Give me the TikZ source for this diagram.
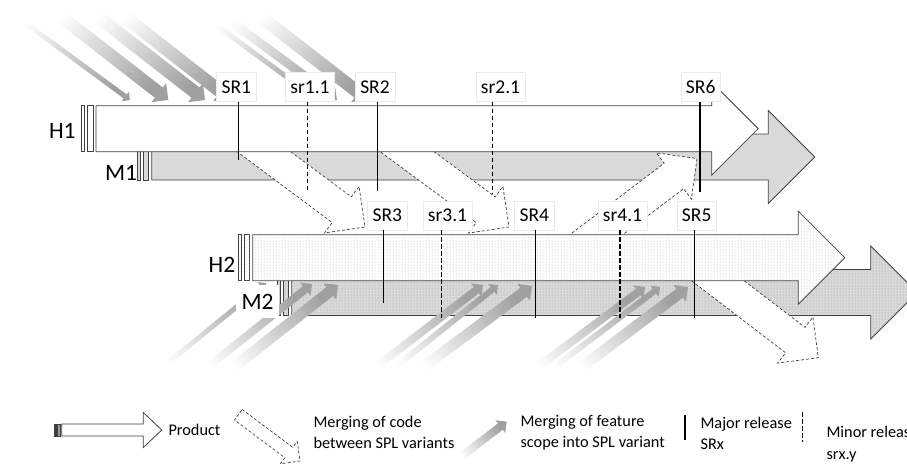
\documentclass[tikz,border=0pt]{standalone}
\usepackage{fontspec}
\setmainfont{Carlito}
\usepackage{xcolor}
\usepackage{tikz}
\usetikzlibrary{calc,patterns}
\definecolor{rahmen}{HTML}{404040}
\definecolor{grau}{HTML}{D9D9D9}
\definecolor{pfeil}{HTML}{A0A0A0}

% product bar: #1 style, #2 start of body, #3 start of head, #4 centre line
\newcommand{\prodarrow}[4]{%
  \path[#1] (#2-14.5,#4-23) rectangle (#2-11.5,#4+23) (#2-8.8,#4-23) rectangle (#2-3,#4+23);
  \path[#1] (#2,#4-23) -- (#3,#4-23) -- (#3,#4-46.5) -- (#3+46.5,#4) -- (#3,#4+46.5)
    -- (#3,#4+23) -- (#2,#4+23) -- cycle;}
% block arrow: #1 tail, #2 tip, #3 half shaft, #4 half head
\newcommand{\mergearrow}[4]{%
  \coordinate (mb) at ($(#2)!#4pt!(#1)$);
  \path[mergeline] ($(#1)!#3pt!90:(#2)$) -- ($(mb)!#3pt!90:(#2)$) -- ($(mb)!#4pt!90:(#2)$)
    -- (#2) -- ($(mb)!#4pt!-90:(#2)$) -- ($(mb)!#3pt!-90:(#2)$) -- ($(#1)!#3pt!-90:(#2)$) -- cycle;}
% shaded arrow: #1 tail, #2 tip, #3 half shaft, #4 half head, #5 shading angle
\newcommand{\featarrow}[5]{%
  \coordinate (fb) at ($(#2)!#4pt!(#1)$);
  \shade[featshade, shading angle=#5] ($(#1)!#3pt!90:(#2)$) -- ($(fb)!#3pt!90:(#2)$) -- ($(fb)!#4pt!90:(#2)$)
    -- (#2) -- ($(fb)!#4pt!-90:(#2)$) -- ($(fb)!#3pt!-90:(#2)$) -- ($(#1)!#3pt!-90:(#2)$) -- cycle;}

\begin{document}
\begin{tikzpicture}[x=1pt, y=-1pt, line join=miter,
  balken/.style={draw=rahmen, line width=0.8pt},
  weiss/.style={balken, fill=white},
  grauf/.style={balken, fill=grau},
  hell/.style={balken, fill=white, postaction={pattern=dots, pattern color=black!30}},
  dunkel/.style={balken, fill=grau, postaction={pattern=dots, pattern color=black!40}},
  mergeline/.style={draw=rahmen, dash pattern=on 3pt off 2pt, fill=white, line width=0.7pt},
  featshade/.style={top color=white, middle color=pfeil!28, bottom color=pfeil},
  major/.style={line width=1.1pt},
  minor/.style={line width=1.1pt, dash pattern=on 4.5pt off 2.5pt},
  rel/.style={fill=white, draw=black!8, font=\fontsize{19.5}{22}\selectfont, minimum height=29pt, inner xsep=5pt, anchor=south},
  bar label/.style={font=\fontsize{23.5}{26}\selectfont},
  legende/.style={font=\fontsize{16.3}{21.5}\selectfont, align=left, anchor=west}]
  \useasboundingbox (0,0) rectangle (907,463);

  % first pair
  \prodarrow{grauf}{151.7}{768.3}{157}
  \mergearrow{233,128.7}{365,227}{16}{29}
  \mergearrow{376,128.7}{509,227}{16}{29}
  \mergearrow{565.5,258}{697,158.5}{16}{29}
  \prodarrow{weiss}{96}{711.7}{128.7}

  \featarrow{10,11.7}{130,100}{2.5}{6}{52}
  \featarrow{48.3,6.7}{168.3,100}{6.5}{12}{52}
  \featarrow{85,6.7}{205,100}{6.5}{12}{52}
  \featarrow{111.7,6.7}{230,99}{6.5}{12}{52}
  \featarrow{200,13.3}{318,100}{2.5}{6}{52}
  \featarrow{218,11.7}{337,100}{4.5}{9}{52}
  \featarrow{248,6.7}{368,100}{6.5}{12}{52}

  % second pair
  \prodarrow{dunkel}{291.7}{870.7}{292.5}
  \mergearrow{686.8,257}{818.3,357.7}{16}{29}
  \prodarrow{hell}{252.7}{798.3}{257.7}

  \featarrow{153,375}{266,283}{2.5}{6}{127.5}
  \featarrow{195,377}{312,284}{4}{8.5}{127.5}
  \featarrow{220,378}{338,285}{5.5}{10.5}{127.5}
  \featarrow{363,377}{483,285}{4}{8.5}{127.5}
  \featarrow{383,377}{498,285}{3}{7}{127.5}
  \featarrow{410,377}{532,286}{5.5}{10.5}{127.5}
  \featarrow{523,378}{645,287}{4}{8.5}{127.5}
  \featarrow{540,378}{660,287}{3}{7}{127.5}
  \featarrow{567,378}{688,287}{5.5}{10.5}{127.5}

  % releases
  \node[rel] (SR1) at (236.3,101.7) {SR1};
  \node[rel] (sr11) at (310,101.7) {sr1.1};
  \node[rel] (SR2) at (375,101.7) {SR2};
  \node[rel] (sr21) at (500.5,101.7) {sr2.1};
  \node[rel] (SR6) at (700.7,101.7) {SR6};
  \node[rel] (SR3) at (387.3,230) {SR3};
  \node[rel] (sr31) at (447.5,230) {sr3.1};
  \node[rel] (SR4) at (534.3,230) {SR4};
  \node[rel] (sr41) at (622.5,230) {sr4.1};
  \node[rel] (SR5) at (696.7,230) {SR5};
  \draw[major] (238.7,0 |- SR1.south) -- (238.7,160);
  \draw[minor] (307.3,0 |- sr11.south) -- (307.3,191.7);
  \draw[major] (377.3,0 |- SR2.south) -- (377.3,191);
  \draw[minor] (492.7,0 |- sr21.south) -- (492.7,193);
  \draw[major] (700,0 |- SR6.south) -- (700,191.7);
  \draw[major] (383.3,0 |- SR3.south) -- (383.3,302.7);
  \draw[minor] (441.7,0 |- sr31.south) -- (441.7,318);
  \draw[major] (535.7,0 |- SR4.south) -- (535.7,318.3);
  \draw[minor] (620,0 |- sr41.south) -- (620,318);
  \draw[major] (694.3,0 |- SR5.south) -- (694.3,318);

  \node[bar label] (H1) at (62.3,131) {H1};
  \node[bar label] (M1) at (121,173) {M1};
  \node[bar label] (H2) at (222,264.5) {H2};
  \node[bar label, fill=white, minimum width=43pt, minimum height=33pt, inner sep=0pt] (M2) at (257.5,301.5) {M2};

  % legend
  \path[balken, fill=black!75] (54,424) rectangle (56.5,436);
  \path[balken, fill=black!40] (57.5,424) rectangle (60,436);
  \path[weiss] (61.7,424) -- (143.3,424) -- (143.3,412.5) -- (161.7,430) -- (143.3,447.5)
    -- (143.3,436) -- (61.7,436) -- cycle;
  \node[legende] (prod) at (165,430) {Product};
  \mergearrow{238.3,414.7}{300,461}{6.5}{14}
  \node[legende] (code) at (310,432.5) {Merging of code\\between SPL variants};
  \featarrow{456.7,460}{506.7,421.7}{4}{8}{127.5}
  \node[legende] (feat) at (517,432.5) {Merging of feature\\scope into SPL variant};
  \draw[major] (685,415) -- (685,440);
  \node[legende] (maj) at (697,433.5) {Major release\\SRx};
  \draw[minor] (802.7,412) -- (802.7,442);
  \node[legende] (min) at (823,444) {Minor release\\srx.y};
\end{tikzpicture}
\end{document}
